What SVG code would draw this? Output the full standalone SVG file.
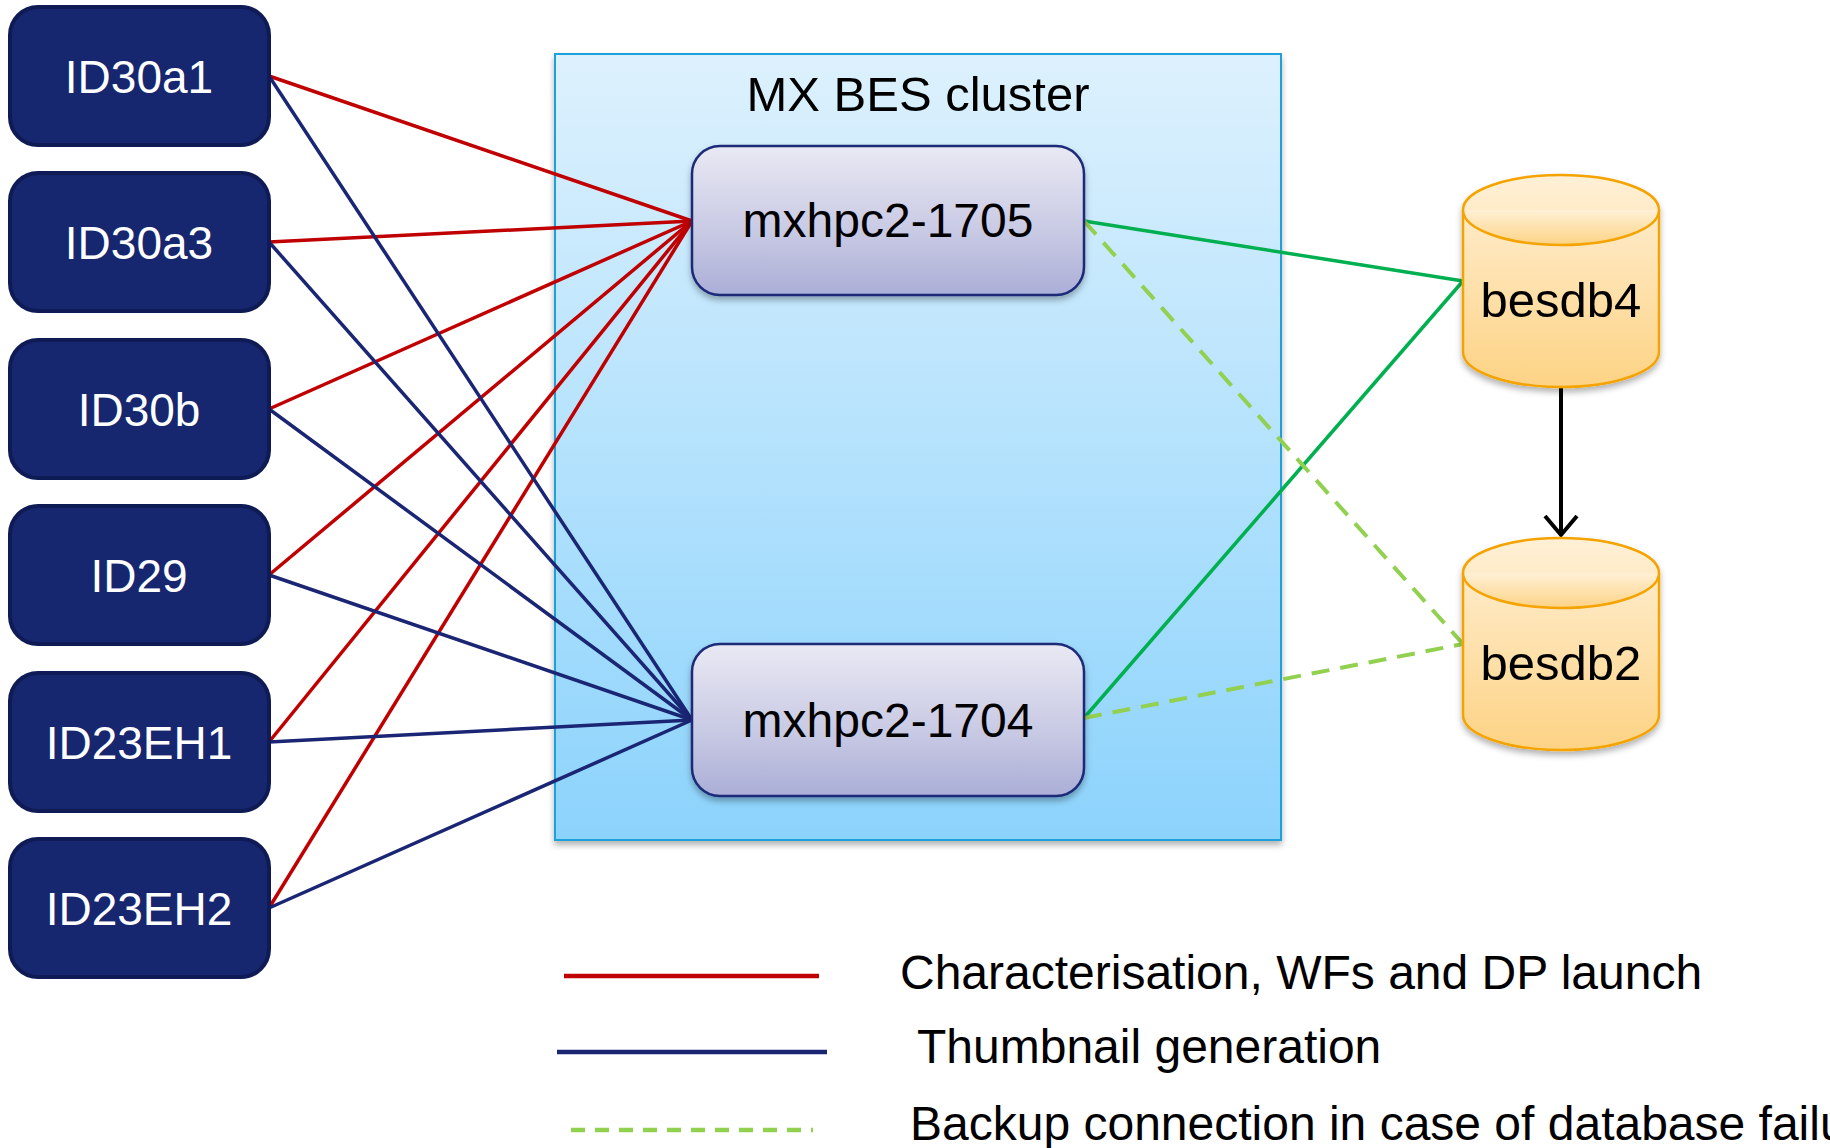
<svg xmlns="http://www.w3.org/2000/svg" width="1830" height="1148" viewBox="0 0 1830 1148">
<defs>
<linearGradient id="gCluster" x1="0" y1="0" x2="0" y2="1">
<stop offset="0" stop-color="#DDF1FD"/>
<stop offset="1" stop-color="#8CD3FC"/>
</linearGradient>
<linearGradient id="gHost" x1="0" y1="0" x2="0" y2="1">
<stop offset="0" stop-color="#E9E9F4"/>
<stop offset="0.6" stop-color="#C7C8E3"/>
<stop offset="1" stop-color="#ABAED7"/>
</linearGradient>
<linearGradient id="gDb" x1="0" y1="0" x2="0" y2="1">
<stop offset="0" stop-color="#FFF0D6"/>
<stop offset="1" stop-color="#FDD385"/>
</linearGradient>
<filter id="shadow" x="-10%" y="-10%" width="120%" height="130%">
<feDropShadow dx="0" dy="4" stdDeviation="3" flood-color="#000" flood-opacity="0.3"/>
</filter>
</defs>
<style>
text{font-family:"Liberation Sans",Arial,Helvetica,sans-serif;}
.src rect{fill:#16266F;stroke:#0F1B55;stroke-width:4;}
.src text{fill:#FFFFFF;font-size:46px;text-anchor:middle;}
.host rect{fill:url(#gHost);stroke:#1A2A78;stroke-width:2.5;}
.host text{fill:#000;font-size:48px;text-anchor:middle;}
.db path{fill:url(#gDb);stroke:#F4A300;stroke-width:2.5;}
.db text{fill:#000;font-size:49px;text-anchor:middle;}
.red{stroke:#C00000;stroke-width:3.5;fill:none;}
.blue{stroke:#1A2674;stroke-width:3.5;fill:none;}
.green{stroke:#00B050;stroke-width:3.5;fill:none;}
.dash{stroke:#92D050;stroke-width:4;fill:none;stroke-dasharray:18 11;}
.legend text{fill:#000;font-size:48px;}
</style>
<rect width="1830" height="1148" fill="#FFFFFF"/>

<g id="cluster">
<rect x="555" y="54" width="726" height="786" fill="url(#gCluster)" stroke="#1BA1DA" stroke-width="2" filter="url(#shadow)"/>
</g>

<g id="connectors">
<line class="red" x1="269" y1="76" x2="692" y2="221"/>
<line class="red" x1="269" y1="242" x2="692" y2="221"/>
<line class="red" x1="269" y1="409" x2="692" y2="221"/>
<line class="red" x1="269" y1="575" x2="692" y2="221"/>
<line class="red" x1="269" y1="742" x2="692" y2="221"/>
<line class="red" x1="269" y1="908" x2="692" y2="221"/>
<line class="blue" x1="269" y1="76" x2="692" y2="720"/>
<line class="blue" x1="269" y1="242" x2="692" y2="720"/>
<line class="blue" x1="269" y1="409" x2="692" y2="720"/>
<line class="blue" x1="269" y1="575" x2="692" y2="720"/>
<line class="blue" x1="269" y1="742" x2="692" y2="720"/>
<line class="blue" x1="269" y1="908" x2="692" y2="720"/>
<line class="green" x1="1084" y1="221" x2="1463" y2="281"/>
<line class="green" x1="1084" y1="718" x2="1463" y2="281"/>
<line class="dash" x1="1084" y1="221" x2="1463" y2="644"/>
<line class="dash" x1="1084" y1="718" x2="1463" y2="644"/>
<line x1="1561" y1="387" x2="1561" y2="534" stroke="#000" stroke-width="4"/>
<polyline points="1545,516 1561,535 1577,516" fill="none" stroke="#000" stroke-width="4"/>
</g>

<text x="918" y="111" font-size="49" text-anchor="middle" fill="#000">MX BES cluster</text>

<g id="ID30a1" class="src"><rect x="10" y="7" width="259" height="138" rx="28"/><text x="139" y="93">ID30a1</text></g>
<g id="ID30a3" class="src"><rect x="10" y="173" width="259" height="138" rx="28"/><text x="139" y="259">ID30a3</text></g>
<g id="ID30b" class="src"><rect x="10" y="340" width="259" height="138" rx="28"/><text x="139" y="426">ID30b</text></g>
<g id="ID29" class="src"><rect x="10" y="506" width="259" height="138" rx="28"/><text x="139" y="592">ID29</text></g>
<g id="ID23EH1" class="src"><rect x="10" y="673" width="259" height="138" rx="28"/><text x="139" y="759">ID23EH1</text></g>
<g id="ID23EH2" class="src"><rect x="10" y="839" width="259" height="138" rx="28"/><text x="139" y="925">ID23EH2</text></g>

<g id="mxhpc2-1705" class="host"><rect x="692" y="146" width="392" height="149" rx="28" filter="url(#shadow)"/><text x="888" y="237">mxhpc2-1705</text></g>
<g id="mxhpc2-1704" class="host"><rect x="692" y="644" width="392" height="152" rx="28" filter="url(#shadow)"/><text x="888" y="737">mxhpc2-1704</text></g>

<g id="besdb4" class="db">
<path d="M1463,210 A98,35 0 0 1 1659,210 L1659,352 A98,35 0 0 1 1463,352 Z" filter="url(#shadow)"/>
<path d="M1463,210 A98,35 0 0 0 1659,210" fill="none"/>
<text x="1561" y="317">besdb4</text>
</g>
<g id="besdb2" class="db">
<path d="M1463,573 A98,35 0 0 1 1659,573 L1659,715 A98,35 0 0 1 1463,715 Z" filter="url(#shadow)"/>
<path d="M1463,573 A98,35 0 0 0 1659,573" fill="none"/>
<text x="1561" y="680">besdb2</text>
</g>

<g id="legend" class="legend">
<line x1="564" y1="976" x2="819" y2="976" stroke="#C00000" stroke-width="4.5"/>
<line x1="557" y1="1052" x2="827" y2="1052" stroke="#1A2674" stroke-width="4.5"/>
<line x1="571" y1="1130" x2="813" y2="1130" stroke="#92D050" stroke-width="4.5" stroke-dasharray="14 10"/>
<text x="900" y="989">Characterisation, WFs and DP launch</text>
<text x="917" y="1063">Thumbnail generation</text>
<text x="910" y="1140">Backup connection in case of database failure</text>
</g>
</svg>
